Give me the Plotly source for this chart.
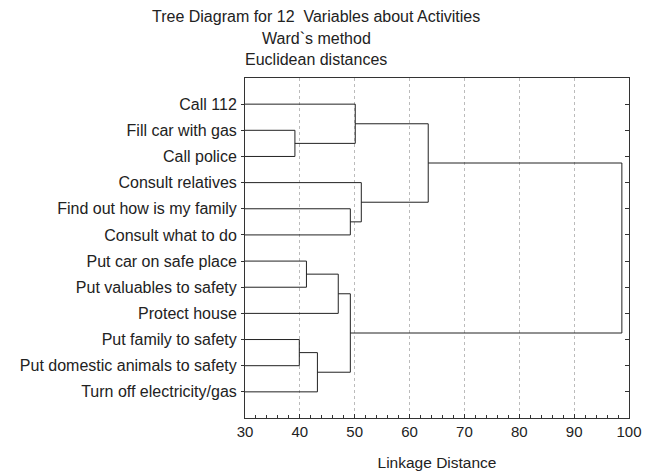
import plotly.graph_objects as go

labels = [
    "Call 112",
    "Fill car with gas",
    "Call police",
    "Consult relatives",
    "Find out how is my family",
    "Consult what to do",
    "Put car on safe place",
    "Put valuables to safety",
    "Protect house",
    "Put family to safety",
    "Put domestic animals to safety",
    "Turn off electricity/gas",
]

# Linkage (scipy-like): child A, child B, linkage distance. New clusters numbered from 12.
merge_a = [1, 9, 6, 11, 8, 4, 15, 0, 3, 19, 21]
merge_b = [2, 10, 7, 13, 14, 5, 16, 12, 17, 20, 18]
merge_h = [39.1, 39.9, 41.2, 43.2, 47.0, 49.2, 49.2, 50.1, 51.2, 63.4, 98.7]

title_lines = ["Tree Diagram for 12  Variables about Activities", "Ward`s method", "Euclidean distances"]
x_ticks = [30, 40, 50, 60, 70, 80, 90, 100]

n = len(labels)
pos = {i: i + 1 for i in range(n)}
height = {i: 0.0 for i in range(n)}

xs, ys = [], []
for k, (a, b, h) in enumerate(zip(merge_a, merge_b, merge_h)):
    node = n + k
    xs += [height[a], h, h, height[b], None]
    ys += [pos[a], pos[a], pos[b], pos[b], None]
    pos[node] = (pos[a] + pos[b]) / 2
    height[node] = h

FONT = "Liberation Sans, Arial, sans-serif"
FS = 16
fig = go.Figure()
fig.add_trace(go.Scatter(x=xs, y=ys, mode="lines",
                         line=dict(color="#222222", width=1), hoverinfo="skip",
                         showlegend=False))
# invisible trace for right axis ticks
fig.add_trace(go.Scatter(x=[None], y=[None], yaxis="y2", showlegend=False))

fig.update_layout(
    width=643, height=463,
    margin=dict(l=237, r=22, t=70, b=53),
    paper_bgcolor="white", plot_bgcolor="white",
    font=dict(family=FONT, size=FS, color="#222222"),
    xaxis=dict(range=[30, 100], tickvals=x_ticks, ticktext=[str(v) for v in x_ticks],
               showgrid=True, gridcolor="#bbbbbb", griddash="dot", gridwidth=1,
               showline=True, linecolor="#333333", linewidth=1, mirror=True,
               ticks="inside", ticklen=4, tickcolor="#333333",
               minor=dict(dtick=2, ticks="inside", ticklen=3, tickcolor="#333333", showgrid=False),
               zeroline=False, automargin=False,
               title=dict(text="Linkage Distance", standoff=18, font=dict(size=15.5)),
               tickfont=dict(size=15)),
    yaxis=dict(range=[13, 0], tickvals=list(range(1, n + 1)), ticktext=labels,
               showgrid=False, zeroline=False, showline=True, linecolor="#333333",
               linewidth=1, mirror=True, ticks="outside", ticklen=3, tickcolor="#333333",
               ticklabelstandoff=1, automargin=False,
               tickfont=dict(size=FS)),
    yaxis2=dict(range=[13, 0], overlaying="y", side="right", tickvals=list(range(1, n + 1)),
                showticklabels=False, ticks="inside", ticklen=4, tickcolor="#333333",
                showgrid=False, zeroline=False, showline=False, automargin=False),
)

for i, t in enumerate(title_lines):
    fig.add_annotation(text=t, xref="paper", yref="paper", x=0.185, y=(418 - (17 + 21.5 * i)) / 340,
                       xanchor="center", yanchor="middle", showarrow=False,
                       font=dict(size=FS, family=FONT, color="#222222"))

fig.write_html("out.html")
